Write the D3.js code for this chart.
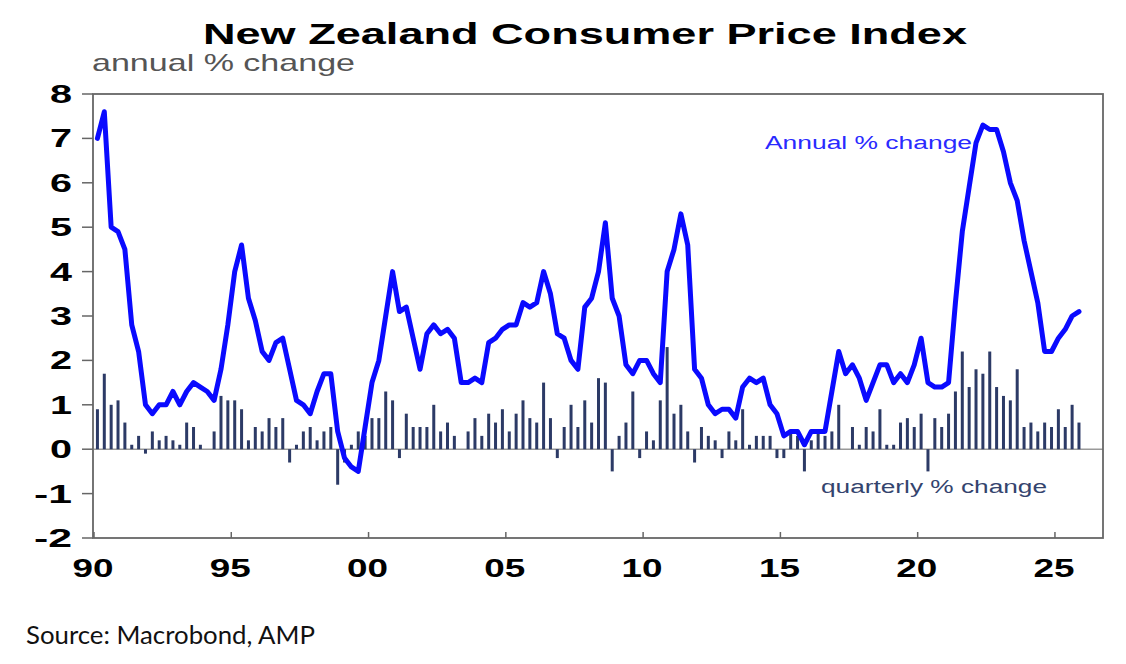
<!DOCTYPE html>
<html>
<head>
<meta charset="utf-8">
<script src="https://cdn.jsdelivr.net/npm/d3@7"></script>
<style>
  body { margin: 0; background: #fff; }
  svg { display: block; }
</style>
</head>
<body>
<div id="chart"></div>
<script>
// NZ CPI, quarterly from 1990 Q1 to 2025 Q4
var startYear = 1990;

var annual = [
  7.0, 7.6, 5.0, 4.9, 4.5, 2.8, 2.2, 1.0, 0.8, 1.0, 1.0, 1.3,
  1.0, 1.3, 1.5, 1.4, 1.3, 1.1, 1.8, 2.8, 4.0, 4.6, 3.4, 2.9,
  2.2, 2.0, 2.4, 2.5, 1.8, 1.1, 1.0, 0.8, 1.3, 1.7, 1.7, 0.4,
  -0.2, -0.4, -0.5, 0.5, 1.5, 2.0, 3.0, 4.0, 3.1, 3.2, 2.5, 1.8,
  2.6, 2.8, 2.6, 2.7, 2.5, 1.5, 1.5, 1.6, 1.5, 2.4, 2.5, 2.7,
  2.8, 2.8, 3.3, 3.2, 3.3, 4.0, 3.5, 2.6, 2.5, 2.0, 1.8, 3.2,
  3.4, 4.0, 5.1, 3.4, 3.0, 1.9, 1.7, 2.0, 2.0, 1.7, 1.5, 4.0,
  4.5, 5.3, 4.6, 1.8, 1.6, 1.0, 0.8, 0.9, 0.9, 0.7, 1.4, 1.6,
  1.5, 1.6, 1.0, 0.8, 0.3, 0.4, 0.4, 0.1, 0.4, 0.4, 0.4, 1.3,
  2.2, 1.7, 1.9, 1.6, 1.1, 1.5, 1.9, 1.9, 1.5, 1.7, 1.5, 1.9,
  2.5, 1.5, 1.4, 1.4, 1.5, 3.3, 4.9, 5.9, 6.9, 7.3, 7.2, 7.2,
  6.7, 6.0, 5.6, 4.7, 4.0, 3.3, 2.2, 2.2, 2.5, 2.7, 3.0, 3.1
];

var quarterly = [
  0.9, 1.7, 1.0, 1.1, 0.6, 0.1, 0.3, -0.1, 0.4, 0.2, 0.3, 0.2,
  0.1, 0.6, 0.5, 0.1, 0.0, 0.4, 1.2, 1.1, 1.1, 0.9, 0.2, 0.5,
  0.4, 0.7, 0.5, 0.7, -0.3, 0.1, 0.4, 0.5, 0.2, 0.4, 0.5, -0.8,
  -0.3, 0.1, 0.4, 0.3, 0.7, 0.7, 1.3, 1.1, -0.2, 0.8, 0.5, 0.5,
  0.5, 1.0, 0.4, 0.6, 0.3, 0.0, 0.4, 0.7, 0.3, 0.8, 0.6, 0.9,
  0.4, 0.8, 1.1, 0.7, 0.6, 1.5, 0.7, -0.2, 0.5, 1.0, 0.5, 1.1,
  0.6, 1.6, 1.5, -0.5, 0.3, 0.6, 1.3, -0.2, 0.4, 0.2, 1.1, 2.3,
  0.8, 1.0, 0.4, -0.3, 0.5, 0.3, 0.2, -0.2, 0.4, 0.2, 0.9, 0.1,
  0.3, 0.3, 0.3, -0.2, -0.2, 0.4, 0.3, -0.5, 0.2, 0.4, 0.3, 0.4,
  1.0, 0.0, 0.5, 0.1, 0.5, 0.4, 0.9, 0.1, 0.1, 0.6, 0.7, 0.5,
  0.8, -0.5, 0.7, 0.5, 0.8, 1.3, 2.2, 1.4, 1.8, 1.7, 2.2, 1.4,
  1.2, 1.1, 1.8, 0.5, 0.6, 0.4, 0.6, 0.5, 0.9, 0.5, 1.0, 0.6
];

var yTicks = [-2, -1, 0, 1, 2, 3, 4, 5, 6, 7, 8];
var xTicks = [1990, 1995, 2000, 2005, 2010, 2015, 2020, 2025];
var xTickLabels = ["90", "95", "00", "05", "10", "15", "20", "25"];

var width = 1126,
    height = 664;
var plot = {left: 94, right: 1103, top: 94, bottom: 538};

var svg = d3.select("#chart").append("svg")
  .attr("width", width)
  .attr("height", height);

var x = d3.scaleLinear().domain([1990, 2026.75]).range([plot.left, plot.right]);
var y = d3.scaleLinear().domain([-2, 8]).range([plot.bottom, plot.top]);

// mid-quarter dates
function qDate(i) { return startYear + i / 4 + 0.125; }

var bold = "'Liberation Sans', Arial, sans-serif";

// title + unit
svg.append("text")
  .attr("x", 203).attr("y", 44)
  .attr("font-family", bold).attr("font-weight", "bold")
  .attr("font-size", 30)
  .attr("textLength", 764).attr("lengthAdjust", "spacingAndGlyphs")
  .text("New Zealand Consumer Price Index");

svg.append("text")
  .attr("x", 92).attr("y", 71)
  .attr("font-family", bold)
  .attr("font-size", 24).attr("fill", "#555")
  .attr("textLength", 263).attr("lengthAdjust", "spacingAndGlyphs")
  .text("annual % change");

// zero line
svg.append("line")
  .attr("x1", plot.left).attr("x2", plot.right)
  .attr("y1", y(0)).attr("y2", y(0))
  .attr("stroke", "#999").attr("stroke-width", 1.5);

// quarterly bars
svg.selectAll("rect.bar")
  .data(quarterly)
  .enter().append("rect")
  .attr("class", "bar")
  .attr("x", function(d, i) { return x(qDate(i)) - 1.5; })
  .attr("width", 3)
  .attr("y", function(d) { return y(Math.max(0, d)); })
  .attr("height", function(d) { return Math.abs(y(d) - y(0)); })
  .attr("fill", "#2c3a66");

// annual line
var line = d3.line()
  .x(function(d, i) { return x(qDate(i)); })
  .y(function(d) { return y(d); });

svg.append("path")
  .datum(annual)
  .attr("d", line)
  .attr("fill", "none")
  .attr("stroke", "#0a0aff")
  .attr("stroke-width", 5)
  .attr("stroke-linejoin", "round")
  .attr("stroke-linecap", "round");

// frame
svg.append("rect")
  .attr("x", plot.left - 1).attr("y", plot.top)
  .attr("width", plot.right - plot.left + 1)
  .attr("height", plot.bottom - plot.top)
  .attr("fill", "none")
  .attr("stroke", "#666").attr("stroke-width", 1.8);

// y axis ticks + labels
svg.selectAll("line.ytick")
  .data(yTicks)
  .enter().append("line")
  .attr("class", "ytick")
  .attr("x1", plot.left - 12).attr("x2", plot.left - 1)
  .attr("y1", function(d) { return y(d); })
  .attr("y2", function(d) { return y(d); })
  .attr("stroke", "#666").attr("stroke-width", 1.5);

svg.selectAll("text.ylab")
  .data(yTicks)
  .enter().append("text")
  .attr("class", "ylab")
  .attr("x", 72)
  .attr("y", function(d) { return y(d) + 9; })
  .attr("text-anchor", "end")
  .attr("font-family", bold).attr("font-weight", "bold")
  .attr("font-size", 25)
  .attr("textLength", function(d) { return d < 0 ? 38 : 22; })
  .attr("lengthAdjust", "spacingAndGlyphs")
  .text(function(d) { return d; });

// x axis ticks + labels
svg.selectAll("line.xtick")
  .data(xTicks)
  .enter().append("line")
  .attr("class", "xtick")
  .attr("x1", function(d) { return x(d); })
  .attr("x2", function(d) { return x(d); })
  .attr("y1", plot.bottom).attr("y2", plot.bottom - 6)
  .attr("stroke", "#666").attr("stroke-width", 1.5);

svg.selectAll("text.xlab")
  .data(xTicks)
  .enter().append("text")
  .attr("class", "xlab")
  .attr("x", function(d) { return x(d) - 1; })
  .attr("y", 577)
  .attr("text-anchor", "middle")
  .attr("font-family", bold).attr("font-weight", "bold")
  .attr("font-size", 25)
  .attr("textLength", 41).attr("lengthAdjust", "spacingAndGlyphs")
  .text(function(d, i) { return xTickLabels[i]; });

// series labels
svg.append("text")
  .attr("x", 765).attr("y", 149)
  .attr("font-family", bold)
  .attr("font-size", 18).attr("fill", "#2a2aff")
  .attr("textLength", 207).attr("lengthAdjust", "spacingAndGlyphs")
  .text("Annual % change");

svg.append("text")
  .attr("x", 821).attr("y", 493)
  .attr("font-family", bold)
  .attr("font-size", 18).attr("fill", "#34446e")
  .attr("textLength", 226).attr("lengthAdjust", "spacingAndGlyphs")
  .text("quarterly % change");

// source
svg.append("text")
  .attr("x", 26).attr("y", 644)
  .attr("font-family", "Lato, 'Open Sans', sans-serif")
  .attr("font-size", 25).attr("fill", "#111")
  .attr("textLength", 289).attr("lengthAdjust", "spacingAndGlyphs")
  .text("Source: Macrobond, AMP");
</script>
</body>
</html>
